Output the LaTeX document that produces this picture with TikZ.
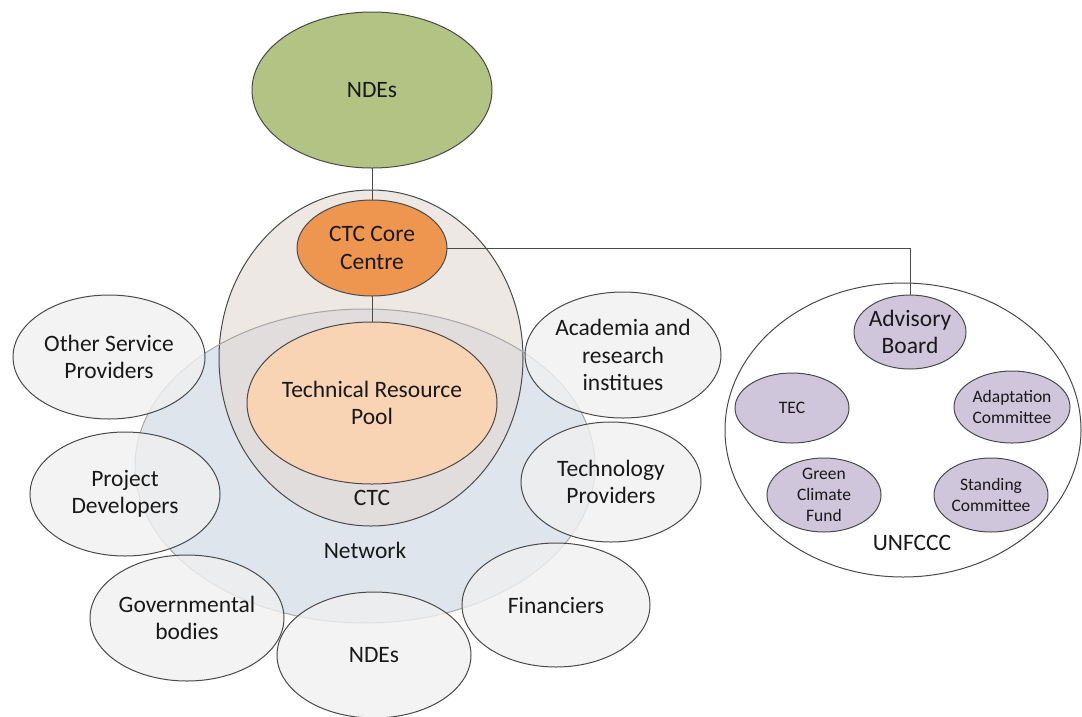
\documentclass[tikz,border=0pt]{standalone}
\usepackage{fontspec}
\setmainfont{Carlito}
\usetikzlibrary{shapes.geometric}
\definecolor{ndegreen}{HTML}{B2C384}
\definecolor{ctcfill}{HTML}{E1D9D2}
\definecolor{netfill}{HTML}{DFE5EC}
\definecolor{outerfill}{HTML}{F0F0F0}
\definecolor{trpfill}{HTML}{F8D4B4}
\definecolor{corefill}{HTML}{EE9650}
\definecolor{purp}{HTML}{CFC6DC}
\definecolor{edge}{HTML}{4A4A4A}
\tikzset{
  ell/.style n args={2}{ellipse, inner sep=0pt, outer sep=0pt, minimum width=#1, minimum height=#2},
  bord/.style={draw=edge, line width=1pt},
  outer/.style={bord, fill=outerfill, fill opacity=0.8},
  purple/.style={bord, fill=purp},
  bigtxt/.style={font=\fontsize{23.5}{27.5}\selectfont, align=center, text=black!90},
  smalltxt/.style={font=\fontsize{17.5}{21}\selectfont, align=center, text=black!90},
  conn/.style={draw=edge, line width=1pt}
}
\begin{document}
\begin{tikzpicture}[x=1pt,y=-1pt]
\useasboundingbox (0,0) rectangle (1082,716);
% top NDEs
\node[ell={240}{156}, bord, fill=ndegreen] (ndes) at (372,90) {};
% Network fill
\node[ell={460}{314}, fill=netfill] (net) at (365,466) {};
% CTC big ellipse
\node[ell={304}{336}, draw=edge, line width=1pt, fill=ctcfill, fill opacity=0.6] (ctc) at (371,358) {};
% Network border on top
\node[ell={460}{314}, draw=black!35, line width=1pt] (netb) at (365,466) {};
% outer ellipses
\node[ell={192}{124}, outer] (osp) at (109,357) {};
\node[ell={190}{124}, outer] (pd) at (125,494) {};
\node[ell={194}{126}, outer] (gov) at (187,618) {};
\node[ell={194}{126}, outer] (ndes2) at (374,655) {};
\node[ell={188}{124}, outer] (fin) at (556,605) {};
\node[ell={180}{120}, outer] (tech) at (611,482) {};
\node[ell={196}{126}, outer] (acad) at (623,355) {};
% Technical resource pool and core
\node[ell={250}{162}, bord, fill=trpfill] (trp) at (372,403) {};
\node[ell={150}{96}, bord, fill=corefill] (core) at (372,248) {};
% UNFCCC
\node[ell={356}{294}, bord, fill=white] (unf) at (903,430) {};
\node[ell={112}{74}, purple] (adv) at (910,332) {};
\node[ell={114}{70}, purple] (tec) at (792,408) {};
\node[ell={116}{72}, purple] (adapt) at (1012,407) {};
\node[ell={114}{74}, purple] (gcf) at (824,495) {};
\node[ell={114}{74}, purple] (stand) at (991,495) {};
% connectors
\draw[conn] (ndes.south) -- (core.north);
\draw[conn] (core.south) -- (trp.north);
\draw[conn] (core.east) -| (adv.north);
% texts
\node[bigtxt] (ndes-t) at (ndes) {NDEs};
\node[bigtxt] (core-t) at (core) {CTC Core\\Centre};
\node[bigtxt] (trp-t) at (trp) {Technical Resource\\Pool};
\node[bigtxt] (ctc-t) at (372,498) {CTC};
\node[bigtxt] (net-t) at (365,550) {Network};
\node[bigtxt] (osp-t) at (osp) {Other Service\\Providers};
\node[bigtxt] (pd-t) at (pd) {Project\\Developers};
\node[bigtxt] (gov-t) at (gov) {Governmental\\bodies};
\node[bigtxt] (ndes2-t) at (ndes2) {NDEs};
\node[bigtxt] (fin-t) at (fin) {Financiers};
\node[bigtxt] (tech-t) at (tech) {Technology\\Providers};
\node[bigtxt] (acad-t) at (acad) {Academia and\\research\\institues};
\node[bigtxt] (adv-t) at (adv) {Advisory\\Board};
\node[smalltxt] (tec-t) at (tec) {TEC};
\node[smalltxt] (adapt-t) at (adapt) {Adaptation\\Committee};
\node[smalltxt] (gcf-t) at (gcf) {Green\\Climate\\Fund};
\node[smalltxt] (stand-t) at (stand) {Standing\\Committee};
\node[bigtxt] (unf-t) at (912,543) {UNFCCC};
\end{tikzpicture}
\end{document}
